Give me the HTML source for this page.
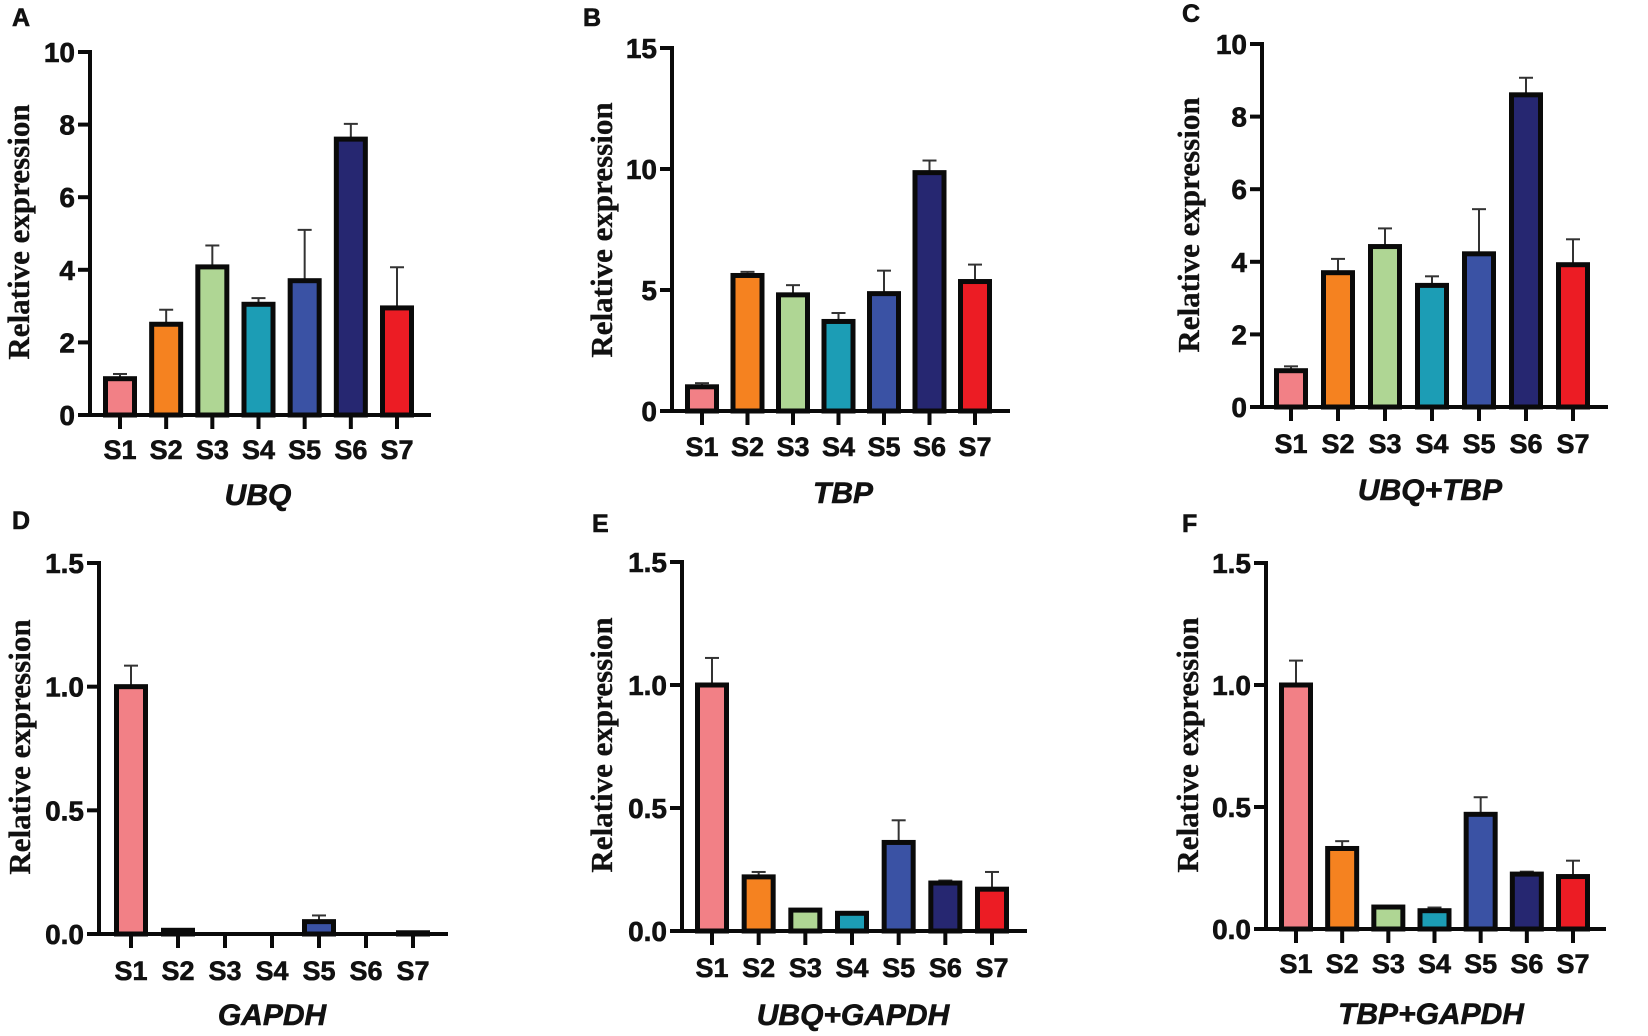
<!DOCTYPE html>
<html><head><meta charset="utf-8"><style>
html,body{margin:0;padding:0;background:#fff;}
svg{display:block;}
text{font-family:"Liberation Sans",sans-serif;font-weight:bold;fill:#111;stroke:#111;stroke-width:0.6px;}
.yl{font-family:"Liberation Serif",serif;font-weight:bold;stroke-width:0.3px;}
</style></head><body>
<svg id="fig" width="1648" height="1036" viewBox="0 0 1648 1036" xmlns="http://www.w3.org/2000/svg"></svg>
<script>
const categories = ['S1','S2','S3','S4','S5','S6','S7'];
const colors = ['#f28086','#f58220','#afd694','#1c9db5','#3a52a4','#262771','#ec1c24'];
const ubqVals = [1.0,2.5,4.08,3.05,3.7,7.6,2.95];
const ubqErr  = [1.13,2.9,4.67,3.22,5.1,8.02,4.07];
const tbpVals = [1.0,5.6,4.8,3.7,4.85,9.85,5.35];
const tbpErr  = [1.15,5.75,5.2,4.05,5.8,10.35,6.05];
const ubqTbpVals = [1.0,3.7,4.42,3.35,4.22,8.6,3.92];
const ubqTbpErr  = [1.12,4.08,4.92,3.6,5.45,9.07,4.62];
const gapdhVals = [1.0,0.015,0,0,0.05,0,0.005];
const gapdhErr  = [1.085,0.02,0,0,0.075,0,0.01];
const ubqGapdhVals = [1.0,0.22,0.085,0.072,0.36,0.195,0.17];
const ubqGapdhErr  = [1.11,0.24,0.088,0.077,0.45,0.205,0.24];
const tbpGapdhVals = [1.0,0.33,0.09,0.075,0.47,0.225,0.215];
const tbpGapdhErr  = [1.10,0.36,0.092,0.088,0.54,0.235,0.28];
const ticks10 = [0,2,4,6,8,10];
const ticks15 = [0,5,10,15];
const ticks15d = [0,0.5,1.0,1.5];
const tickLabels10 = ['0','2','4','6','8','10'];
const tickLabels15 = ['0','5','10','15'];
const tickLabels15d = ['0.0','0.5','1.0','1.5'];

const panels = [
 {id:'a',letter:'A',title:'UBQ',vals:ubqVals,err:ubqErr,ticks:ticks10,tl:tickLabels10,max:10,ax:90,top:52,y0:415,xEnd:431,c1:120,c7:397,lx:12,ly:26,ylx:22,yly:232,sb:459,tx:258,tb:505},
 {id:'b',letter:'B',title:'TBP',vals:tbpVals,err:tbpErr,ticks:ticks15,tl:tickLabels15,max:15,ax:672,top:48,y0:411,xEnd:1010,c1:702,c7:975,lx:583,ly:26,ylx:605,yly:230,sb:456,tx:843,tb:503},
 {id:'c',letter:'C',title:'UBQ+TBP',vals:ubqTbpVals,err:ubqTbpErr,ticks:ticks10,tl:tickLabels10,max:10,ax:1262,top:44,y0:407,xEnd:1608,c1:1291,c7:1573,lx:1182,ly:22,ylx:1192,yly:225,sb:453,tx:1430,tb:500},
 {id:'d',letter:'D',title:'GAPDH',vals:gapdhVals,err:gapdhErr,ticks:ticks15d,tl:tickLabels15d,max:1.5,ax:99,top:563,y0:934,xEnd:448,c1:131,c7:413,lx:12,ly:529,ylx:23,yly:747,sb:980,tx:272,tb:1025},
 {id:'e',letter:'E',title:'UBQ+GAPDH',vals:ubqGapdhVals,err:ubqGapdhErr,ticks:ticks15d,tl:tickLabels15d,max:1.5,ax:682,top:562,y0:931,xEnd:1027,c1:712,c7:992,lx:592,ly:532,ylx:605,yly:745,sb:977,tx:853,tb:1025},
 {id:'f',letter:'F',title:'TBP+GAPDH',vals:tbpGapdhVals,err:tbpGapdhErr,ticks:ticks15d,tl:tickLabels15d,max:1.5,ax:1266,top:563,y0:929,xEnd:1606,c1:1296,c7:1573,lx:1182,ly:532,ylx:1191,yly:745,sb:973,tx:1431,tb:1024}
];
const NS='http://www.w3.org/2000/svg';
const svg=document.getElementById('fig');
function mk(tag,attrs,parent,txt){const e=document.createElementNS(NS,tag);for(const k in attrs)e.setAttribute(k,attrs[k]);if(txt!==undefined)e.textContent=txt;parent.appendChild(e);return e;}

panels.forEach(p=>{
  const g=mk('g',{},svg);
  
  
  const y=v=>p.y0-(v/p.max)*(p.y0-p.top);
  const step=(p.c7-p.c1)/6;
  const x=i=>p.c1+i*step;
  const pl=mk('text',{x:p.lx,y:p.ly,'font-size':25},g,p.letter);
  
  
  const yl=mk('text',{class:'yl',x:0,y:0,'font-size':31,'text-anchor':'middle','dominant-baseline':'middle',transform:`translate(${p.ylx},${p.yly}) rotate(-90)`},g,'Relative expression');
  
  
  p.vals.forEach((v,i)=>{
    const cx=x(i), w=29, yt=y(v);
    if(p.err[i]>v){
      const el=mk('line',{x1:cx,x2:cx,y1:y(p.err[i]),y2:yt,stroke:'#333','stroke-width':2},g);
      
      
      const cap=mk('line',{x1:cx-7,x2:cx+7,y1:y(p.err[i]),y2:y(p.err[i]),stroke:'#333','stroke-width':2},g);
      
      
    }
    if(v>0){
      const r=mk('rect',{x:cx-w/2,y:yt,width:w,height:Math.max(p.y0-yt,0.5),fill:colors[i],stroke:'#0a0a0a','stroke-width':5},g);
      
      
    }
    const t=mk('line',{x1:cx,x2:cx,y1:p.y0,y2:p.y0+14,stroke:'#0a0a0a','stroke-width':4},g);
    
    
    const lb=mk('text',{x:cx,y:p.sb,'font-size':27,'text-anchor':'middle'},g,categories[i]);
    
    
  });
  const ya=mk('line',{x1:p.ax,x2:p.ax,y1:p.top-2,y2:p.y0+2,stroke:'#0a0a0a','stroke-width':4},g);
  
  
  const xa=mk('line',{x1:p.ax-12,x2:p.xEnd,y1:p.y0,y2:p.y0,stroke:'#0a0a0a','stroke-width':4},g);
  
  
  p.ticks.forEach((tv,k)=>{
    const t=mk('line',{x1:p.ax-12,x2:p.ax,y1:y(tv),y2:y(tv),stroke:'#0a0a0a','stroke-width':4},g);
    
    
    const tl=mk('text',{x:p.ax-15,y:y(tv)+10,'font-size':28,'text-anchor':'end'},g,p.tl[k]);
    
    
  });
  const tt=mk('text',{x:p.tx,y:p.tb,'font-size':30,'font-style':'italic','text-anchor':'middle'},g,p.title);
  
  
});
</script>
</body></html>
